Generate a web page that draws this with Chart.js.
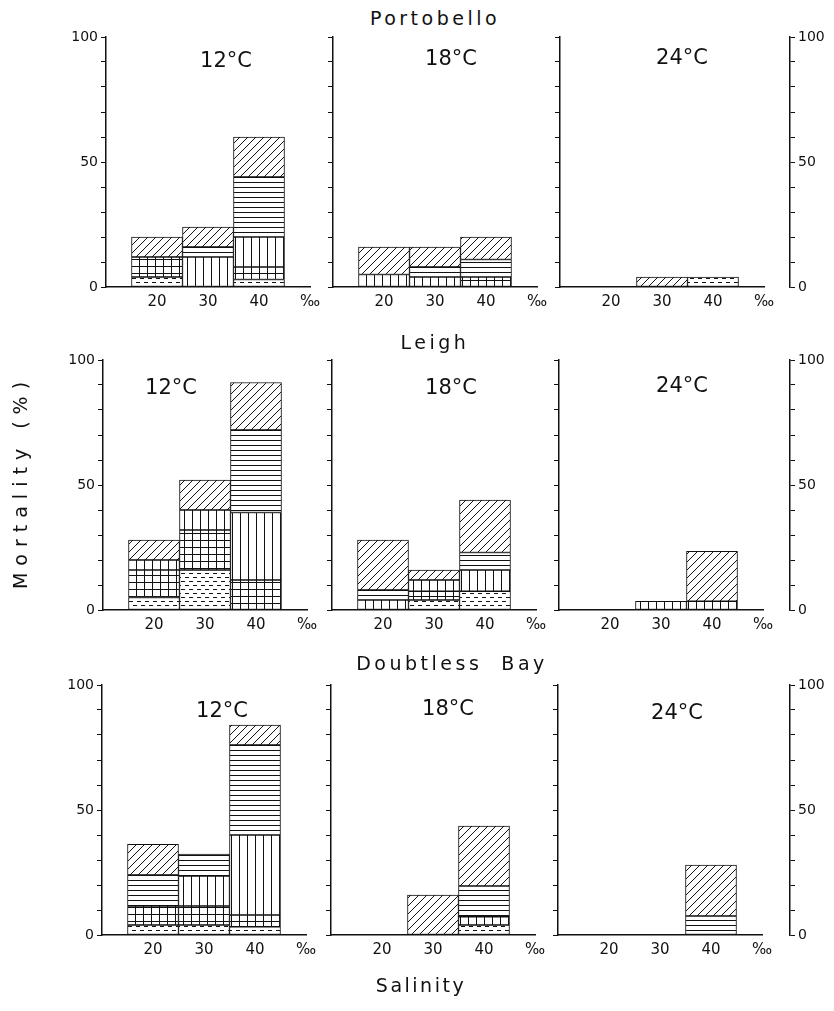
<!DOCTYPE html>
<html>
<head>
<meta charset="utf-8">
<title>Mortality by salinity and temperature</title>
<script src="https://cdn.jsdelivr.net/npm/chart.js@4.4.1/dist/chart.umd.min.js"></script>
<style>
    body { margin: 0; background: #fff; }
    #page { position: relative; width: 834px; height: 1011px; overflow: hidden; font-family: "DejaVu Sans", sans-serif; color: #111; }
    #page canvas { position: absolute; }
    .lbl { position: absolute; white-space: pre; transform: translate(-50%, -50%); line-height: 1; }
    .site { font-size: 19px; letter-spacing: 3.5px; }
    .temp { font-size: 21px; }
    .axis { font-size: 19px; letter-spacing: 2.5px; }
    .ytitle { font-size: 19px; letter-spacing: 7px; }
</style>
</head>
<body>
<div id="page"></div>
<script>
const salinity = [20, 30, 40];
const layers = ["stippled", "grid", "vertical", "horizontal", "diagonal"];
const sites = ["Portobello", "Leigh", "Doubtless  Bay"];
const temps = ["12°C", "18°C", "24°C"];

// mortality (%) in each layer, bottom to top, at 20, 30 and 40 ‰
const portobello12 = [[4, 0, 3], [8, 0, 5], [0, 12, 12], [0, 4, 24], [8, 8, 16]];
const portobello18 = [[0, 0, 0], [0, 0, 4], [5, 4, 0], [0, 4, 7], [11, 8, 9]];
const portobello24 = [[0, 0, 4], [0, 0, 0], [0, 0, 0], [0, 0, 0], [0, 4, 0]];
const leigh12 = [[5, 16, 0], [11, 16, 12], [4, 8, 27], [0, 0, 33], [8, 12, 19]];
const leigh18 = [[0, 4, 7.5], [0, 3.5, 0], [4, 4.5, 8.5], [4, 0, 7], [20, 4, 21]];
const leigh24 = [[0, 0, 0], [0, 0, 0], [0, 3.5, 3.5], [0, 0, 0], [0, 0, 20]];
const doubtless12 = [[4, 4, 3.3], [7.6, 7.6, 4.7], [0, 12, 32], [12.4, 8.8, 36], [12.3, 0, 8]];
const doubtless18 = [[0, 0, 4], [0, 0, 0], [0, 0, 3.3], [0, 0, 12.3], [0, 16, 24]];
const doubtless24 = [[0, 0, 0], [0, 0, 0], [0, 0, 0], [0, 0, 7.6], [0, 0, 20.4]];

const panels = [
    [portobello12, portobello18, portobello24],
    [leigh12, leigh18, leigh24],
    [doubtless12, doubtless18, doubtless24]
];

// page layout (pixels)
const rowTop = [37, 360, 685];
const colLeft = [[106, 333, 560], [103, 332, 559], [102, 331, 558]];
const rightAxisX = 790;
const sitePos = [[435, 18], [435, 342], [452, 663]];
const tempPos = [
    [[226, 60], [451, 58], [682, 57]],
    [[171, 387], [451, 387], [682, 385]],
    [[222, 710], [448, 708], [677, 712]]
];

const ink = "#111";
const page = document.getElementById("page");

function makePattern(w, h, draw) {
    let tile = document.createElement("canvas");
    tile.width = w;
    tile.height = h;
    let ctx = tile.getContext("2d");
    ctx.fillStyle = "#fff";
    ctx.fillRect(0, 0, w, h);
    ctx.strokeStyle = ink;
    ctx.lineWidth = 1;
    ctx.beginPath();
    draw(ctx, w, h);
    ctx.stroke();
    return ctx.createPattern(tile, "repeat");
}

const patterns = {
    stippled: makePattern(8, 8, (c) => {
        c.moveTo(0, 1.5); c.lineTo(4, 1.5);
        c.moveTo(4, 5.5); c.lineTo(8, 5.5);
    }),
    grid: makePattern(8, 7, (c) => {
        c.moveTo(3.5, 0); c.lineTo(3.5, 7);
        c.moveTo(0, 3.5); c.lineTo(8, 3.5);
    }),
    vertical: makePattern(8, 8, (c) => {
        c.moveTo(3.5, 0); c.lineTo(3.5, 8);
    }),
    horizontal: makePattern(8, 5, (c) => {
        c.moveTo(0, 2.5); c.lineTo(8, 2.5);
    }),
    diagonal: makePattern(8, 8, (c) => {
        c.moveTo(-1, 9); c.lineTo(9, -1);
        c.moveTo(-1, 1); c.lineTo(1, -1);
        c.moveTo(7, 9); c.lineTo(9, 7);
    })
};

function addLabel(text, x, y, cls) {
    let div = document.createElement("div");
    div.className = "lbl " + cls;
    div.textContent = text;
    div.style.left = x + "px";
    div.style.top = y + "px";
    page.appendChild(div);
    return div;
}

function addCanvas(left, top, w, h) {
    let canvas = document.createElement("canvas");
    canvas.width = w;
    canvas.height = h;
    canvas.style.left = left + "px";
    canvas.style.top = top + "px";
    page.appendChild(canvas);
    return canvas;
}

function yAxis(showLabels, position) {
    return {
        position: position,
        min: 0,
        max: 100,
        stacked: true,
        grid: { drawOnChartArea: false, tickLength: 5, color: ink, lineWidth: 1 },
        border: { color: ink, width: 1.5 },
        ticks: {
            stepSize: 10,
            autoSkip: false,
            padding: 3,
            color: ink,
            font: { family: "DejaVu Sans", size: 14 },
            callback: v => (showLabels && v % 50 === 0) ? v : ""
        },
        afterFit: s => { s.width = 50; }
    };
}

function drawPanel(row, col) {
    let values = panels[row][col];
    let canvas = addCanvas(colLeft[row][col] - 50, rowTop[row] - 12, 274, 292);

    new Chart(canvas, {
        type: "bar",
        data: {
            datasets: layers.map((name, i) => ({
                label: name,
                data: salinity.map((s, j) => ({ x: s, y: values[i][j] || null })),
                backgroundColor: patterns[name],
                borderColor: ink,
                borderWidth: 1,
                borderSkipped: false,
                barPercentage: 1,
                categoryPercentage: 1
            }))
        },
        options: {
            responsive: false,
            animation: false,
            devicePixelRatio: 1,
            layout: { padding: { top: 12, right: 20, left: 0, bottom: 0 } },
            plugins: { legend: { display: false }, tooltip: { enabled: false } },
            scales: {
                x: {
                    type: "linear",
                    min: 10,
                    max: 50,
                    offset: false,
                    stacked: true,
                    grid: { display: false, drawTicks: false, offset: false },
                    border: { color: ink, width: 1.5 },
                    ticks: {
                        stepSize: 10,
                        autoSkip: false,
                        maxRotation: 0,
                        padding: 6,
                        color: ink,
                        font: { family: "DejaVu Sans", size: 15 },
                        callback: v => v === 10 ? "" : (v === 50 ? "‰" : v)
                    },
                    afterFit: s => { s.height = 30; }
                },
                y: yAxis(col === 0, "left")
            }
        }
    });

    addLabel(temps[col], tempPos[row][col][0], tempPos[row][col][1], "temp");
}

// stand-alone right-hand axis beside the 24°C panels
function drawRightAxis(row) {
    let canvas = addCanvas(rightAxisX - 5, rowTop[row] - 12, 55, 292);
    new Chart(canvas, {
        type: "bar",
        data: { datasets: [] },
        options: {
            responsive: false,
            animation: false,
            devicePixelRatio: 1,
            layout: { padding: { top: 12, bottom: 30, left: 0, right: 0 } },
            plugins: { legend: { display: false }, tooltip: { enabled: false } },
            scales: {
                x: { type: "linear", display: false, min: 0, max: 1 },
                y: yAxis(true, "right")
            }
        }
    });
}

for (let row = 0; row < 3; row++) {
    addLabel(sites[row], sitePos[row][0], sitePos[row][1], "site");
    for (let col = 0; col < 3; col++) {
        drawPanel(row, col);
    }
    drawRightAxis(row);
}

let yTitle = addLabel("Mortality (%)", 20, 482, "ytitle");
yTitle.style.transform = "translate(-50%, -50%) rotate(-90deg)";
addLabel("Salinity", 421, 985, "axis");
</script>
</body>
</html>
